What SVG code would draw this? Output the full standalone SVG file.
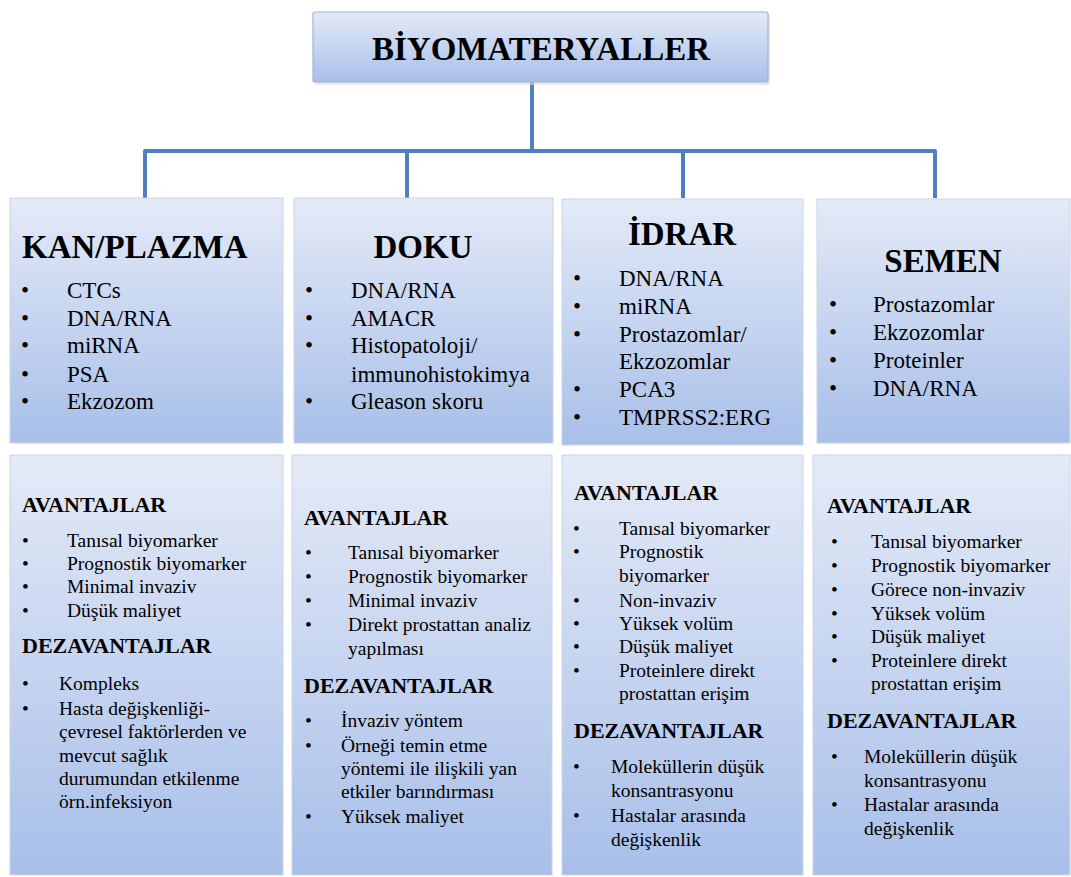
<svg xmlns="http://www.w3.org/2000/svg" width="1071" height="877" viewBox="0 0 1071 877">
  <defs>
    <linearGradient id="boxFill" x1="0" y1="0" x2="0" y2="1">
      <stop offset="0" stop-color="#e4eaf7"/>
      <stop offset="1" stop-color="#a8bfe9"/>
    </linearGradient>
    <style>
      .box { fill: url(#boxFill); stroke: #c9d4e6; stroke-width: 1; }
      .top { fill: url(#boxFill); stroke: #9fb4d2; stroke-width: 1.2; }
      .shadow { fill: #d8dbe0; opacity: 0.6; }
      .link { fill: none; stroke: #4f7fc0; stroke-width: 4; stroke-linejoin: round; }
      text { font-family: "Liberation Serif", "Times New Roman", serif; fill: #000; }
      .title { font-size: 33px; font-weight: bold; text-anchor: middle; }
      .head { font-size: 33px; font-weight: bold; }
      .headc { font-size: 33px; font-weight: bold; text-anchor: middle; }
      .item { font-size: 23px; }
      .sub { font-size: 22px; font-weight: bold; }
      .body { font-size: 19.5px; }
    </style>
  </defs>

  <!-- connectors -->
  <g id="connectors">
    <path class="link" d="M532,82 V151"/>
    <path class="link" d="M145,198 V151 H935 V198"/>
    <path class="link" d="M407,151 V198"/>
    <path class="link" d="M683,151 V198"/>
  </g>

  <!-- root -->
  <g id="root">
    <rect class="shadow" x="315" y="14" width="455" height="71" rx="2"/>
    <rect class="top" x="313" y="12" width="455" height="70" rx="2"/>
    <text class="title" x="541" y="60">BİYOMATERYALLER</text>
  </g>

  <!-- KAN/PLAZMA -->
  <g id="kan">
    <rect class="box" x="10" y="198" width="273" height="245"/>
    <text class="head" x="22" y="258">KAN/PLAZMA</text>
    <g class="item">
      <text x="21" y="298">•</text><text x="67" y="298">CTCs</text>
      <text x="21" y="326">•</text><text x="67" y="326">DNA/RNA</text>
      <text x="21" y="353">•</text><text x="67" y="353">miRNA</text>
      <text x="21" y="382">•</text><text x="67" y="382">PSA</text>
      <text x="21" y="409">•</text><text x="67" y="409">Ekzozom</text>
    </g>
  </g>

  <!-- DOKU -->
  <g id="doku">
    <rect class="box" x="294" y="198" width="259" height="245"/>
    <text class="headc" x="423" y="258">DOKU</text>
    <g class="item">
      <text x="305" y="298">•</text><text x="351" y="298">DNA/RNA</text>
      <text x="305" y="326">•</text><text x="351" y="326">AMACR</text>
      <text x="305" y="353">•</text><text x="351" y="353">Histopatoloji/</text>
      <text x="351" y="382">immunohistokimya</text>
      <text x="305" y="409">•</text><text x="351" y="409">Gleason skoru</text>
    </g>
  </g>

  <!-- İDRAR -->
  <g id="idrar">
    <rect class="box" x="562" y="199" width="241" height="246"/>
    <text class="headc" x="682" y="245">İDRAR</text>
    <g class="item">
      <text x="573" y="286">•</text><text x="619" y="286">DNA/RNA</text>
      <text x="573" y="314">•</text><text x="619" y="314">miRNA</text>
      <text x="573" y="342">•</text><text x="619" y="342">Prostazomlar/</text>
      <text x="619" y="369">Ekzozomlar</text>
      <text x="573" y="397">•</text><text x="619" y="397">PCA3</text>
      <text x="573" y="425">•</text><text x="619" y="425">TMPRSS2:ERG</text>
    </g>
  </g>

  <!-- SEMEN -->
  <g id="semen">
    <rect class="box" x="817" y="199" width="253" height="244"/>
    <text class="headc" x="943" y="272">SEMEN</text>
    <g class="item">
      <text x="829" y="312">•</text><text x="873" y="312">Prostazomlar</text>
      <text x="829" y="340">•</text><text x="873" y="340">Ekzozomlar</text>
      <text x="829" y="368">•</text><text x="873" y="368">Proteinler</text>
      <text x="829" y="396">•</text><text x="873" y="396">DNA/RNA</text>
    </g>
  </g>

  <!-- KAN/PLAZMA pros and cons -->
  <g id="kan-notes">
    <rect class="box" x="10" y="455" width="273" height="420"/>
    <text class="sub" x="22" y="512">AVANTAJLAR</text>
    <g class="body">
      <text x="22" y="547">•</text><text x="67" y="547">Tanısal biyomarker</text>
      <text x="22" y="570">•</text><text x="67" y="570">Prognostik biyomarker</text>
      <text x="22" y="593">•</text><text x="67" y="593">Minimal invaziv</text>
      <text x="22" y="617">•</text><text x="67" y="617">Düşük maliyet</text>
    </g>
    <text class="sub" x="22" y="653">DEZAVANTAJLAR</text>
    <g class="body">
      <text x="22" y="690">•</text><text x="59" y="690">Kompleks</text>
      <text x="22" y="715">•</text><text x="59" y="715">Hasta değişkenliği-</text>
      <text x="59" y="738">çevresel faktörlerden ve</text>
      <text x="59" y="762">mevcut sağlık</text>
      <text x="59" y="785">durumundan etkilenme</text>
      <text x="59" y="808">örn.infeksiyon</text>
    </g>
  </g>

  <!-- DOKU pros and cons -->
  <g id="doku-notes">
    <rect class="box" x="292" y="455" width="260" height="420"/>
    <text class="sub" x="304" y="525">AVANTAJLAR</text>
    <g class="body">
      <text x="305" y="559">•</text><text x="348" y="559">Tanısal biyomarker</text>
      <text x="305" y="583">•</text><text x="348" y="583">Prognostik biyomarker</text>
      <text x="305" y="607">•</text><text x="348" y="607">Minimal invaziv</text>
      <text x="305" y="631">•</text><text x="348" y="631">Direkt prostattan analiz</text>
      <text x="348" y="655">yapılması</text>
    </g>
    <text class="sub" x="304" y="693">DEZAVANTAJLAR</text>
    <g class="body">
      <text x="305" y="727">•</text><text x="341" y="727">İnvaziv yöntem</text>
      <text x="305" y="752">•</text><text x="341" y="752">Örneği temin etme</text>
      <text x="341" y="775">yöntemi ile ilişkili yan</text>
      <text x="341" y="798">etkiler barındırması</text>
      <text x="305" y="823">•</text><text x="341" y="823">Yüksek maliyet</text>
    </g>
  </g>

  <!-- İDRAR pros and cons -->
  <g id="idrar-notes">
    <rect class="box" x="562" y="455" width="241" height="420"/>
    <text class="sub" x="574" y="500">AVANTAJLAR</text>
    <g class="body">
      <text x="573" y="535">•</text><text x="619" y="535">Tanısal biyomarker</text>
      <text x="573" y="558">•</text><text x="619" y="558">Prognostik</text>
      <text x="619" y="582">biyomarker</text>
      <text x="573" y="607">•</text><text x="619" y="607">Non-invaziv</text>
      <text x="573" y="630">•</text><text x="619" y="630">Yüksek volüm</text>
      <text x="573" y="653">•</text><text x="619" y="653">Düşük maliyet</text>
      <text x="573" y="677">•</text><text x="619" y="677">Proteinlere direkt</text>
      <text x="619" y="700">prostattan erişim</text>
    </g>
    <text class="sub" x="574" y="738">DEZAVANTAJLAR</text>
    <g class="body">
      <text x="573" y="773">•</text><text x="611" y="773">Moleküllerin düşük</text>
      <text x="611" y="797">konsantrasyonu</text>
      <text x="573" y="822">•</text><text x="611" y="822">Hastalar arasında</text>
      <text x="611" y="846">değişkenlik</text>
    </g>
  </g>

  <!-- SEMEN pros and cons -->
  <g id="semen-notes">
    <rect class="box" x="813" y="455" width="257" height="420"/>
    <text class="sub" x="827" y="513">AVANTAJLAR</text>
    <g class="body">
      <text x="831" y="548">•</text><text x="871" y="548">Tanısal biyomarker</text>
      <text x="831" y="572">•</text><text x="871" y="572">Prognostik biyomarker</text>
      <text x="831" y="596">•</text><text x="871" y="596">Görece non-invaziv</text>
      <text x="831" y="620">•</text><text x="871" y="620">Yüksek volüm</text>
      <text x="831" y="643">•</text><text x="871" y="643">Düşük maliyet</text>
      <text x="831" y="667">•</text><text x="871" y="667">Proteinlere direkt</text>
      <text x="871" y="690">prostattan erişim</text>
    </g>
    <text class="sub" x="827" y="728">DEZAVANTAJLAR</text>
    <g class="body">
      <text x="831" y="763">•</text><text x="864" y="763">Moleküllerin düşük</text>
      <text x="864" y="787">konsantrasyonu</text>
      <text x="831" y="811">•</text><text x="864" y="811">Hastalar arasında</text>
      <text x="864" y="835">değişkenlik</text>
    </g>
  </g>
</svg>
